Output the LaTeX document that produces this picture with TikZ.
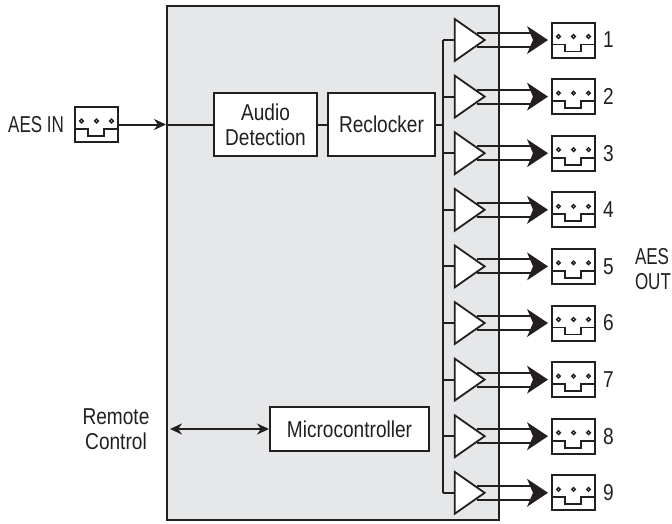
\documentclass[tikz,border=0pt]{standalone}
\usepackage{fontspec}
\setmainfont{Liberation Sans}[FakeStretch=0.83]
\newfontfamily\capsfont{Liberation Sans}[FakeStretch=0.74]
\usepackage{tikz}
\usetikzlibrary{positioning, arrows.meta, shapes.geometric}
\definecolor{ink}{RGB}{35,31,32}
\definecolor{cardgray}{RGB}{230,231,233}

\tikzset{
  blk/.style={draw, fill=white, line width=2pt, align=center, inner sep=0pt},
  jack/.style={draw, fill=white, line width=2pt, minimum width=43pt, minimum height=35pt, inner sep=0pt,
    path picture={
      \foreach \dx in {6.5,21.5,36.5}
        \draw[line width=1.4pt] ([xshift=\dx pt,yshift=-14pt]path picture bounding box.north west) circle[radius=1.8pt];
      \draw[line width=1.8pt] ([yshift=-22pt]path picture bounding box.north west) -- ++(13pt,0) -- ++(0,-7pt)
        -- ++(16pt,0) -- ++(0,7pt) -- ([yshift=-22pt]path picture bounding box.north east);
    }},
  drv/.style={draw, fill=white, line width=1.8pt, isosceles triangle, isosceles triangle stretches,
    minimum width=42pt, minimum height=30pt, inner sep=0pt},
  num/.style={inner sep=0pt},
}

\begin{document}
\begin{tikzpicture}[x=1pt, y=-1pt, color=ink, line width=2pt,
    font=\fontsize{23}{25}\selectfont,
    >={Stealth[length=12pt, width=11pt]}]
\useasboundingbox (0,0) rectangle (672,523);

% card
\node[draw, fill=cardgray, minimum width=332pt, minimum height=514pt, inner sep=0pt] (card) at (333,263) {};

% processing blocks
\node[blk, minimum width=103pt, minimum height=63pt] (aud) at (265.5,124.5) {Audio\\Detection};
\node[blk, minimum width=107pt, minimum height=63pt, right=9pt of aud] (rec) {Reclocker};
\node[blk, minimum width=159pt, minimum height=44pt] (mcu) at (349.5,429) {Microcontroller};

% input
\node[jack] (ain) at (96.5,124.5) {};
\node[left=9pt of ain, inner sep=0pt, font=\fontsize{23}{25}\capsfont] (ainlbl) {AES IN};
\draw[->] (ain) -- (ain -| card.west);
\draw (ain -| card.west) -- (aud);
\draw (aud) -- (rec);

% distribution bus
\coordinate (bus) at (443,40);
\draw (rec.east) -- (rec.east -| bus);

% output drivers
\foreach \i in {1,...,9}{
  \pgfmathsetmacro{\yy}{40+56.6*(\i-1)}
  \node[drv, anchor=apex] (d\i) at (487,\yy) {};
  \node[jack] (j\i) at (573.5,\yy) {};
  \node[num, right=6pt of j\i] (n\i) {\i};
  \draw (d\i.west -| bus) -- (d\i.west);
  \draw ([xshift=-10pt,yshift=7pt]d\i.apex) -- ([xshift=-16pt,yshift=7pt]j\i.west);
  \draw ([xshift=-10pt,yshift=-7pt]d\i.apex) -- ([xshift=-16pt,yshift=-7pt]j\i.west);
  \fill ([xshift=-3pt]j\i.west) -- ++(-21pt,14pt) -- ++(6pt,-14pt) -- ++(-6pt,-14pt) -- cycle;
}
\draw (bus) -- (d9.west -| bus);

\node[align=left, inner sep=0pt, anchor=west, font=\fontsize{23}{25}\capsfont] (aesout) at (634,269) {AES\\OUT};

% remote control
\node[align=center, inner sep=0pt] (rc) at (116,429) {Remote\\Control};
\draw[<->] ([xshift=4pt]card.west |- mcu) -- (mcu);
\end{tikzpicture}
\end{document}
